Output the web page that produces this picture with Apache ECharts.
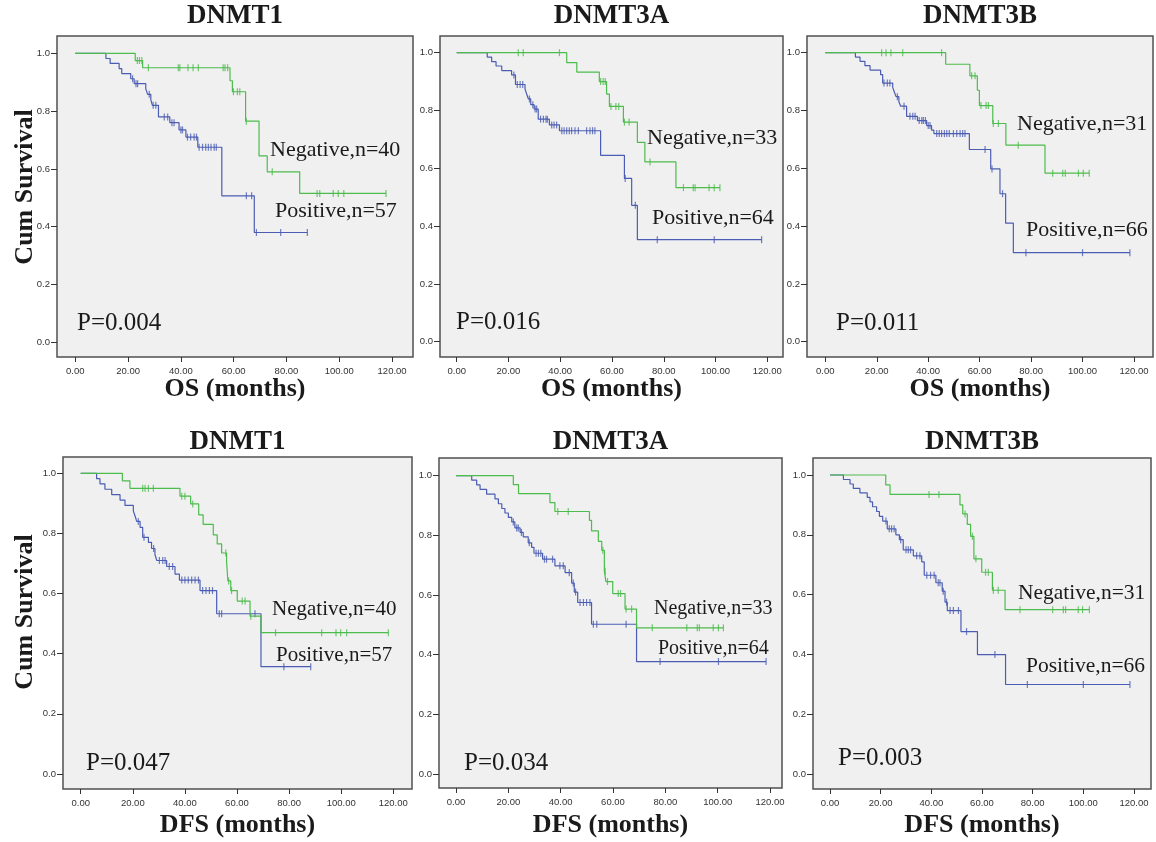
<!DOCTYPE html>
<html>
<head>
<meta charset="utf-8">
<title>DNMT Kaplan-Meier</title>
<script src="https://cdn.jsdelivr.net/npm/echarts@6/dist/echarts.min.js"></script>
<style>
  html, body { margin: 0; padding: 0; background: #fff; }
  #main { width: 1156px; height: 842px; }
</style>
</head>
<body>
<div id="main"></div>
<script>
// gene names, p values and group sizes
const genes = ['DNMT1', 'DNMT3A', 'DNMT3B'];
const pValues = ['0.004', '0.016', '0.011', '0.047', '0.034', '0.003'];
const negN = [40, 33, 31, 40, 33, 31];
const posN = [57, 64, 66, 57, 64, 66];
const xTicks = [0, 20, 40, 60, 80, 100, 120];
const yTicks = [0, 0.2, 0.4, 0.6, 0.8, 1.0];

// OS - DNMT1
const os1NegT = [22.7, 25.5, 58.6, 59.5, 64.5, 69.6, 72.7, 85];
const os1NegS = [0.975, 0.95, 0.905, 0.867, 0.765, 0.645, 0.59, 0.515];
const os1NegC = [23.5, 24.3, 25.2, 27.7, 39, 39.6, 42.7, 44.6, 46.6, 56, 56.7, 57.7, 59.9, 61.4, 62.3, 64.8, 74.6, 91.6, 92.6, 97.7, 99.6, 101.7, 117.7];
const os1PosT = [11.6, 13.2, 16.6, 17.6, 21, 22.3, 26.7, 27.4, 28.6, 29.2, 31.5, 35.8, 39.3, 41.9, 46.4, 55.5, 67.8];
const os1PosS = [0.982, 0.965, 0.947, 0.93, 0.912, 0.895, 0.877, 0.858, 0.84, 0.82, 0.78, 0.76, 0.735, 0.71, 0.675, 0.507, 0.38];
const os1PosC = [21.7, 23, 23.6, 28, 29.5, 30.5, 33.7, 35, 36.6, 37.4, 40, 40.6, 42.5, 43.7, 45, 45.9, 46.9, 48.2, 49.4, 50.4, 51.4, 52.6, 53.4, 64.8, 66.8, 68.6, 77.8, 87.9];

// OS - DNMT3A
const os3aNegT = [42.5, 46.4, 55.1, 57.9, 59, 64.4, 69.8, 72.7, 84.7];
const os3aNegS = [0.966, 0.933, 0.9, 0.857, 0.814, 0.76, 0.69, 0.622, 0.533];
const os3aNegC = [23.8, 25.7, 39.7, 55.6, 56.6, 57.4, 59.6, 61.5, 62.6, 64.8, 66.6, 74.7, 87.6, 91.4, 92.1, 97.5, 99.5, 101.7];
const os3aPosT = [11.8, 13.5, 15.2, 17.4, 21.2, 22.7, 26.4, 27, 27.7, 28.6, 29.9, 31.5, 35.8, 39.7, 55.6, 64.8, 67.6, 69.8];
const os3aPosS = [0.985, 0.969, 0.954, 0.938, 0.923, 0.89, 0.874, 0.858, 0.84, 0.82, 0.805, 0.77, 0.75, 0.73, 0.645, 0.565, 0.472, 0.353];
const os3aPosC = [22.1, 23.4, 24.5, 25.5, 28.1, 29.4, 30.3, 30.9, 32.4, 33.5, 34.5, 35, 36.7, 37.6, 38.6, 40.6, 41.5, 42.5, 43.5, 44.4, 45.7, 47, 50.2, 51.5, 52.5, 53.4, 65.1, 69, 77.5, 99.5, 117.8];

// OS - DNMT3B
const os3bNegT = [46.8, 56.2, 59.1, 59.9, 65.1, 70.2, 85.4];
const os3bNegS = [0.96, 0.92, 0.87, 0.817, 0.755, 0.68, 0.583];
const os3bNegC = [21.9, 23.6, 25.5, 30.1, 45.2, 56.9, 58.2, 60.5, 62.5, 63.4, 65.3, 67.3, 75, 88.4, 92.3, 93.3, 98.4, 100.3, 102.6];
const os3bPosT = [11.7, 13.5, 15.4, 17.4, 21.5, 22.3, 26.2, 26.8, 27.5, 28.6, 29.3, 31.6, 35.8, 39.4, 41.3, 42.2, 56, 64.3, 67.9, 70.1, 73.1];
const os3bPosS = [0.985, 0.97, 0.955, 0.94, 0.924, 0.895, 0.88, 0.865, 0.848, 0.83, 0.815, 0.78, 0.765, 0.748, 0.732, 0.72, 0.665, 0.598, 0.512, 0.41, 0.308];
const os3bPosC = [22.8, 24.1, 25.1, 28, 30.6, 32.9, 34, 34.9, 36.5, 37.5, 38.1, 38.9, 40, 40.7, 43.3, 44.3, 45.2, 46.3, 47.2, 48.2, 49.8, 51.1, 52.4, 53.4, 54.3, 62.1, 64.8, 68.9, 78, 100, 118.4];

// DFS - DNMT1
const dfs1NegT = [16, 18.9, 38.1, 42.2, 45.3, 47, 50.9, 52.4, 54.1, 56, 56.5, 57.6, 60.1, 65, 69.2];
const dfs1NegS = [0.975, 0.95, 0.924, 0.898, 0.862, 0.83, 0.795, 0.765, 0.735, 0.705, 0.642, 0.61, 0.575, 0.525, 0.47];
const dfs1NegC = [23.8, 24.7, 26, 27.9, 38.8, 40, 43, 55.7, 56.8, 57.9, 62, 63.1, 65.3, 74.8, 92.5, 98, 99.8, 102.1, 118.1];
const dfs1PosT = [6.1, 7.4, 9.3, 11.9, 15.1, 17, 20.2, 20.9, 21.5, 22.8, 23.8, 26, 27.2, 28.5, 29.2, 33, 36.2, 37.9, 45.8, 52.2, 69.2];
const dfs1PosS = [0.982, 0.965, 0.947, 0.929, 0.911, 0.893, 0.875, 0.857, 0.84, 0.82, 0.787, 0.77, 0.75, 0.73, 0.71, 0.69, 0.665, 0.645, 0.61, 0.533, 0.357];
const dfs1PosC = [22.1, 24.3, 28, 30.2, 31.5, 32.4, 34, 35.3, 38.8, 40, 41.3, 42.6, 43.9, 45.2, 46.8, 48.1, 49.4, 50.6, 53.2, 54.1, 66.9, 78, 88.3];

// DFS - DNMT3A
const dfs3aNegT = [21.9, 23.9, 35.9, 37.8, 51, 51.8, 54.4, 55.7, 56.7, 57.3, 59.9, 64.6, 69];
const dfs3aNegS = [0.97, 0.94, 0.91, 0.88, 0.85, 0.815, 0.78, 0.75, 0.68, 0.645, 0.605, 0.553, 0.49];
const dfs3aNegC = [38.9, 42.9, 56.1, 57, 57.9, 62, 62.9, 65, 67.1, 75, 88.2, 92.2, 93, 98.3, 100.3, 102.2];
const dfs3aPosT = [6, 7.9, 9.2, 11.7, 14.9, 16.2, 17.5, 18.7, 20, 21.3, 22.5, 24.5, 25.7, 27.6, 28.9, 29.8, 33.1, 37.8, 41.7, 44.2, 45.2, 46.5, 51.8, 69];
const dfs3aPosS = [0.985, 0.969, 0.954, 0.938, 0.922, 0.906, 0.89, 0.875, 0.86, 0.845, 0.825, 0.81, 0.795, 0.775, 0.76, 0.74, 0.72, 0.698, 0.675, 0.64, 0.61, 0.575, 0.502, 0.377];
const dfs3aPosC = [21.9, 23.2, 23.8, 25, 28, 30.6, 31.5, 32.4, 33.8, 34.6, 36.9, 39.7, 41, 43.3, 44.8, 45.7, 47.4, 48.7, 49.9, 51.2, 52.5, 53.8, 65, 78, 100.3, 118.5];

// DFS - DNMT3B
const dfs3bNegT = [22, 23.7, 51.3, 52.4, 54.2, 55.5, 56.8, 59.9, 64.1, 69.1];
const dfs3bNegS = [0.967, 0.935, 0.9, 0.87, 0.835, 0.795, 0.72, 0.675, 0.615, 0.55];
const dfs3bNegC = [39.1, 43, 53.3, 56.2, 57.6, 61.4, 62.5, 64.5, 66.4, 75, 87.9, 92.1, 93, 98, 99.7, 102.4];
const dfs3bPosT = [5.3, 7.9, 9.2, 11.8, 14.7, 15.8, 16.8, 18.4, 19.5, 20.8, 22.6, 26, 27.4, 28.9, 32.9, 36.2, 37.2, 41.8, 44.3, 45.4, 46.3, 51.7, 58.2, 69.3];
const dfs3bPosS = [0.985, 0.97, 0.955, 0.94, 0.925, 0.91, 0.894, 0.878, 0.862, 0.846, 0.82, 0.8, 0.784, 0.75, 0.73, 0.71, 0.665, 0.64, 0.612, 0.575, 0.547, 0.477, 0.4, 0.3];
const dfs3bPosC = [22.1, 23.4, 24.3, 25.3, 27.9, 30, 30.9, 31.8, 34.2, 35.5, 38.2, 39.7, 41.1, 42.7, 43.4, 44.7, 46, 47.4, 48.7, 50.7, 53.9, 65.1, 77.9, 100, 118.4];

const curves = [
    { neg: [os1NegT, os1NegS, os1NegC], pos: [os1PosT, os1PosS, os1PosC] },
    { neg: [os3aNegT, os3aNegS, os3aNegC], pos: [os3aPosT, os3aPosS, os3aPosC] },
    { neg: [os3bNegT, os3bNegS, os3bNegC], pos: [os3bPosT, os3bPosS, os3bPosC] },
    { neg: [dfs1NegT, dfs1NegS, dfs1NegC], pos: [dfs1PosT, dfs1PosS, dfs1PosC] },
    { neg: [dfs3aNegT, dfs3aNegS, dfs3aNegC], pos: [dfs3aPosT, dfs3aPosS, dfs3aPosC] },
    { neg: [dfs3bNegT, dfs3bNegS, dfs3bNegC], pos: [dfs3bPosT, dfs3bPosS, dfs3bPosC] }
];

// layout of each panel in pixels: frame box, where 0/120 months and 1.0/0.0 sit, label spots
const layout = [
    { box: [57, 36, 413, 357], px: [75.3, 392.1], py: [53.3, 342.3], neg: [270, 150], pos: [275, 211], p: [77, 323], fs: 22 },
    { box: [440, 36, 783, 357], px: [456.7, 767.3], py: [52.7, 341.7], neg: [647, 138], pos: [652, 218], p: [456, 322], fs: 22 },
    { box: [807, 36, 1153, 357], px: [825.3, 1134], py: [52.7, 341.7], neg: [1017, 124], pos: [1026, 230], p: [836, 323], fs: 22 },
    { box: [63, 457, 412, 789], px: [80.7, 393.3], py: [473.3, 774], neg: [272, 609], pos: [276, 655], p: [86, 763], fs: 21 },
    { box: [439, 458, 782, 788], px: [456, 770], py: [475.7, 774], neg: [654, 609], pos: [658, 649], p: [464, 763], fs: 20 },
    { box: [813, 458, 1151, 789], px: [830, 1134], py: [475, 774.3], neg: [1018, 593], pos: [1026, 666], p: [838, 758], fs: 21.5 }
];

const GREEN = '#4cbc4c';
const BLUE = '#4b5db3';

function survAt(T, S, t) {
    let s = 1;
    for (let i = 0; i < T.length; i++) if (T[i] <= t) s = S[i];
    return s;
}

function stepData(T, S, C) {
    const d = [[0, 1]];
    T.forEach((t, i) => d.push([t, S[i]]));
    const end = Math.max.apply(null, C);
    if (end > T[T.length - 1]) d.push([end, S[S.length - 1]]);
    return d;
}

const grid = [], xAxis = [], yAxis = [], series = [], graphic = [];
const serif = 'Liberation Serif, Times New Roman, serif';

layout.forEach((L, i) => {
    const [l, t, r, b] = L.box;
    const ppx = (L.px[1] - L.px[0]) / 120;
    const ppy = L.py[1] - L.py[0];
    grid.push({
        left: l, top: t, width: r - l, height: b - t,
        show: true, backgroundColor: '#f0f0f0', borderColor: '#505050', borderWidth: 1.5
    });
    xAxis.push({
        type: 'value', gridIndex: i,
        min: -(L.px[0] - l) / ppx, max: 120 + (r - L.px[1]) / ppx,
        axisLine: { show: false, onZero: false },
        splitLine: { show: false },
        axisTick: { show: true, length: 5, customValues: xTicks, lineStyle: { color: '#333' } },
        axisLabel: {
            customValues: xTicks, formatter: v => v.toFixed(2),
            fontSize: 9.5, color: '#333', margin: 9, fontFamily: 'Liberation Sans, Arial'
        }
    });
    yAxis.push({
        type: 'value', gridIndex: i,
        min: -(b - L.py[1]) / ppy, max: 1 + (L.py[0] - t) / ppy,
        axisLine: { show: false, onZero: false },
        splitLine: { show: false },
        axisTick: { show: true, length: 6, customValues: yTicks, lineStyle: { color: '#333' } },
        axisLabel: {
            customValues: yTicks, formatter: v => v.toFixed(1),
            fontSize: 9.5, color: '#333', margin: 7, fontFamily: 'Liberation Sans, Arial'
        }
    });

    const c = curves[i];
    [[c.pos, BLUE], [c.neg, GREEN]].forEach(([g, color]) => {
        const [T, S, C] = g;
        series.push({
            type: 'line', step: 'end', xAxisIndex: i, yAxisIndex: i,
            showSymbol: false, data: stepData(T, S, C),
            lineStyle: { color: color, width: 1.2 }, silent: true
        });
        series.push({
            type: 'scatter', xAxisIndex: i, yAxisIndex: i,
            symbol: 'rect', symbolSize: [1.2, 7],
            itemStyle: { color: color },
            data: C.map(x => [x, survAt(T, S, x)]), silent: true
        });
    });

    const txt = (x, y, text, font, align) => ({
        type: 'text', x: x, y: y,
        style: { text: text, font: font, fill: '#1a1a1a', align: align || 'left', verticalAlign: 'middle', textAlign: align || 'left', textVerticalAlign: 'middle' }
    });
    graphic.push(txt(L.neg[0], L.neg[1], 'Negative,n=' + negN[i], L.fs + 'px ' + serif));
    graphic.push(txt(L.pos[0], L.pos[1], 'Positive,n=' + posN[i], L.fs + 'px ' + serif));
    graphic.push(txt(L.p[0], L.p[1], 'P=' + pValues[i], '25px ' + serif));

    const cx = (l + r) / 2;
    const top = i < 3;
    graphic.push(txt(cx, top ? 16 : 442, genes[i % 3], 'bold 27px ' + serif, 'center'));
    graphic.push(txt(cx, top ? 389 : 825, top ? 'OS (months)' : 'DFS (months)', 'bold 26px ' + serif, 'center'));
});

[187, 612].forEach(y => {
    graphic.push({
        type: 'text', x: 25, y: y, rotation: Math.PI / 2,
        style: { text: 'Cum Survival', font: 'bold 26px ' + serif, fill: '#1a1a1a', align: 'center', verticalAlign: 'middle', textAlign: 'center', textVerticalAlign: 'middle' }
    });
});

const myChart = echarts.init(document.getElementById('main'));
myChart.setOption({
    animation: false,
    backgroundColor: '#fff',
    grid: grid,
    xAxis: xAxis,
    yAxis: yAxis,
    series: series,
    graphic: graphic
});
</script>
</body>
</html>
